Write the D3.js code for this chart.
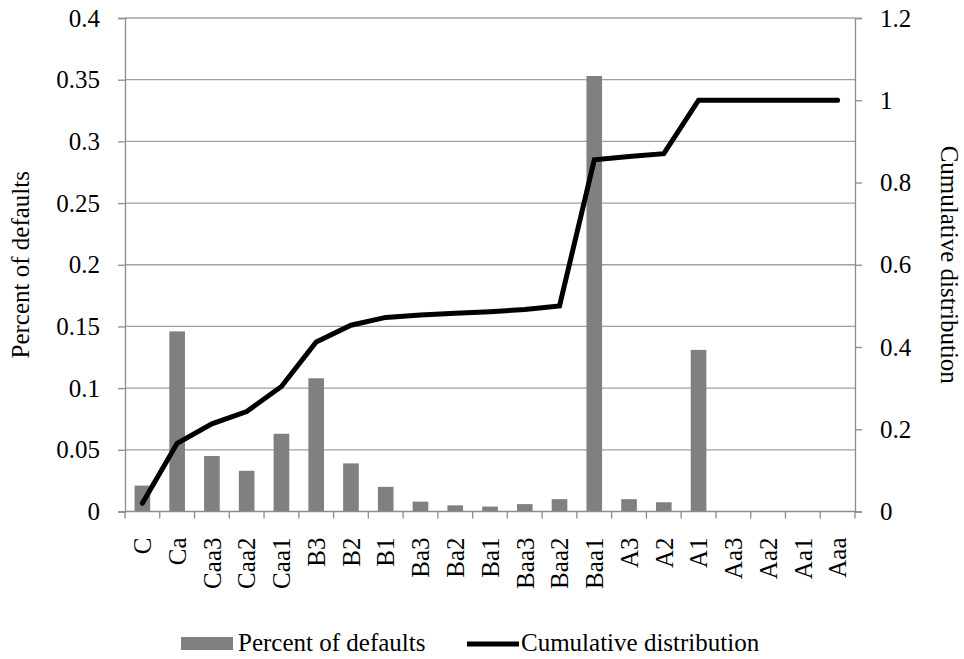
<!DOCTYPE html>
<html>
<head>
<meta charset="utf-8">
<script src="https://cdn.jsdelivr.net/npm/d3@7"></script>
<style>
  html, body { margin: 0; padding: 0; background: #ffffff; }
  svg { display: block; }
</style>
</head>
<body>
<svg id="chart" width="964" height="659" font-family="Liberation Serif, Noto Serif, DejaVu Serif, Times New Roman, Times, serif"></svg>
<script>
// Rating grades, from lowest to highest
const categories = ["C", "Ca", "Caa3", "Caa2", "Caa1", "B3", "B2", "B1", "Ba3", "Ba2", "Ba1",
  "Baa3", "Baa2", "Baa1", "A3", "A2", "A1", "Aa3", "Aa2", "Aa1", "Aaa"];

// Share of defaults by grade (left axis)
const percentDefaults = [0.021, 0.146, 0.045, 0.033, 0.063, 0.108, 0.039, 0.020, 0.008, 0.005, 0.004,
  0.006, 0.010, 0.353, 0.010, 0.0075, 0.131, 0, 0, 0, 0];

// Cumulative distribution of defaults (right axis)
const cumulative = [0.020, 0.166, 0.213, 0.243, 0.304, 0.412, 0.453, 0.472, 0.478, 0.482, 0.486,
  0.491, 0.500, 0.855, 0.863, 0.870, 1.0, 1.0, 1.0, 1.0, 1.0];

const leftTicks = [0, 0.05, 0.1, 0.15, 0.2, 0.25, 0.3, 0.35, 0.4];
const rightTicks = [0, 0.2, 0.4, 0.6, 0.8, 1, 1.2];

const seriesNames = ["Percent of defaults", "Cumulative distribution"];
const axisTitles = ["Percent of defaults", "Cumulative distribution"];

const plot = { left: 125, right: 855, top: 18, bottom: 511.5 };
const fontSize = 25;
const fontStack = "Liberation Serif, Noto Serif, DejaVu Serif, Times New Roman, Times, serif";
const axisColor = "#8c8c8c";
const gridColor = "#a0a0a0";
const barColor = "#808080";

const svg = d3.select("#chart");

const x = d3.scaleBand()
  .domain(categories)
  .range([plot.left, plot.right])
  .paddingInner(0.55)
  .paddingOuter(0.275);

const xEdge = d3.scaleLinear()
  .domain([0, categories.length])
  .range([plot.left, plot.right]);

const yLeft = d3.scaleLinear().domain([0, 0.4]).range([plot.bottom, plot.top]);
const yRight = d3.scaleLinear().domain([0, 1.2]).range([plot.bottom, plot.top]);

// Horizontal gridlines (left axis ticks)
svg.append("g")
  .selectAll("line")
  .data(leftTicks.filter(d => d > 0))
  .join("line")
  .attr("x1", plot.left)
  .attr("x2", plot.right)
  .attr("y1", d => yLeft(d))
  .attr("y2", d => yLeft(d))
  .attr("stroke", gridColor)
  .attr("stroke-width", 1.3);

// Bars
svg.append("g")
  .selectAll("rect")
  .data(categories.map((c, i) => ({ c, v: percentDefaults[i] })))
  .join("rect")
  .attr("x", d => x(d.c))
  .attr("width", x.bandwidth())
  .attr("y", d => yLeft(d.v))
  .attr("height", d => yLeft(0) - yLeft(d.v))
  .attr("fill", barColor);

// Left axis
const leftAxis = svg.append("g")
  .attr("transform", `translate(${plot.left},0)`)
  .call(d3.axisLeft(yLeft).tickValues(leftTicks).tickSize(7).tickPadding(18)
    .tickFormat(d => String(+d.toFixed(2))));

// Right axis
const rightAxis = svg.append("g")
  .attr("transform", `translate(${plot.right},0)`)
  .call(d3.axisRight(yRight).tickValues(rightTicks).tickSize(7).tickPadding(18)
    .tickFormat(d => String(+d.toFixed(1))));

[leftAxis, rightAxis].forEach(g => {
  g.attr("font-family", fontStack).attr("font-size", fontSize);
  g.select(".domain").attr("stroke", axisColor).attr("stroke-width", 1.3);
  g.selectAll(".tick line").attr("stroke", axisColor).attr("stroke-width", 1.3);
  g.selectAll(".tick text").attr("fill", "#000");
});

// Bottom axis: baseline with ticks at category boundaries
const bottom = svg.append("g")
  .attr("font-family", fontStack)
  .attr("font-size", fontSize);
bottom.append("line")
  .attr("x1", plot.left).attr("x2", plot.right)
  .attr("y1", plot.bottom).attr("y2", plot.bottom)
  .attr("stroke", axisColor).attr("stroke-width", 1.3);
bottom.selectAll("line.tick")
  .data(d3.range(categories.length + 1))
  .join("line")
  .attr("class", "tick")
  .attr("x1", d => xEdge(d)).attr("x2", d => xEdge(d))
  .attr("y1", plot.bottom).attr("y2", plot.bottom + 7)
  .attr("stroke", axisColor).attr("stroke-width", 1.3);
bottom.selectAll("text")
  .data(categories)
  .join("text")
  .attr("transform", d => `translate(${x(d) + x.bandwidth() / 2},${plot.bottom + 26}) rotate(-90)`)
  .attr("text-anchor", "end")
  .attr("dy", "0.35em")
  .text(d => d);

// Cumulative line
const line = d3.line()
  .x((d, i) => x(categories[i]) + x.bandwidth() / 2)
  .y(d => yRight(d));

svg.append("path")
  .datum(cumulative)
  .attr("d", line)
  .attr("fill", "none")
  .attr("stroke", "#000")
  .attr("stroke-width", 5)
  .attr("stroke-linejoin", "miter")
  .attr("stroke-linecap", "round");

// Axis titles
const midY = (plot.top + plot.bottom) / 2;
const titles = svg.append("g")
  .attr("font-family", fontStack)
  .attr("font-size", fontSize);
titles.append("text")
  .attr("transform", `translate(20,${midY}) rotate(-90)`)
  .attr("text-anchor", "middle")
  .attr("dy", "0.35em")
  .text(axisTitles[0]);
titles.append("text")
  .attr("transform", `translate(950,${midY}) rotate(90)`)
  .attr("text-anchor", "middle")
  .attr("dy", "0.35em")
  .text(axisTitles[1]);

// Legend
const legend = svg.append("g")
  .attr("font-family", fontStack)
  .attr("font-size", fontSize);
legend.append("rect")
  .attr("x", 181).attr("y", 637).attr("width", 52).attr("height", 13)
  .attr("fill", barColor);
legend.append("text")
  .attr("x", 238).attr("y", 651)
  .text(seriesNames[0]);
legend.append("line")
  .attr("x1", 467).attr("x2", 519)
  .attr("y1", 644).attr("y2", 644)
  .attr("stroke", "#000").attr("stroke-width", 5);
legend.append("text")
  .attr("x", 521).attr("y", 651)
  .text(seriesNames[1]);
</script>
</body>
</html>
